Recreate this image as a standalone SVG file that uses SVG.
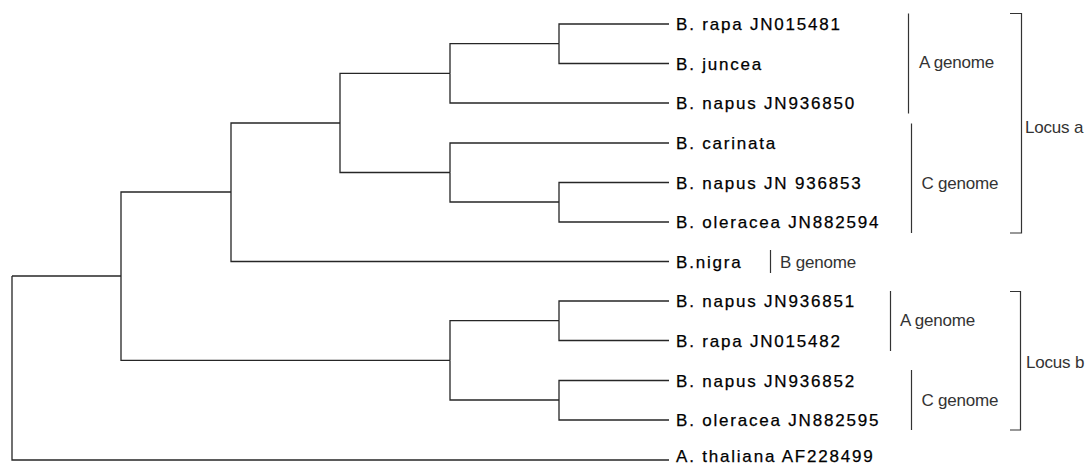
<svg xmlns="http://www.w3.org/2000/svg" width="1091" height="464" viewBox="0 0 1091 464">
<style>
.e{fill:none;stroke:#262626;stroke-width:1.3}
.b{fill:none;stroke:#333;stroke-width:1.2}
.sp{font-family:"Liberation Sans",Arial,sans-serif;font-size:17px;letter-spacing:1.8px;fill:#000;stroke:#000;stroke-width:0.25px}
.an{font-family:"Liberation Sans",Arial,sans-serif;font-size:17px;fill:#333;letter-spacing:-0.2px}
</style>
<rect width="1091" height="464" fill="#fff"/>
<g id="connectors">
<path id="e-root-n10" class="e" d="M12 276 H121"/>
<path id="e-root-L12" class="e" d="M12 276 V460 H669"/>
<path id="e-n10-n6" class="e" d="M121 276 V192 H231"/>
<path id="e-n10-n9" class="e" d="M121 276 V360.4 H450"/>
<path id="e-n6-n5" class="e" d="M231 192 V123 H340"/>
<path id="e-n6-L7" class="e" d="M231 192 V261.5 H669"/>
<path id="e-n5-n2" class="e" d="M340 123 V73.4 H450"/>
<path id="e-n5-n4" class="e" d="M340 123 V172.5 H450"/>
<path id="e-n2-n1" class="e" d="M450 73.4 V43.7 H559"/>
<path id="e-n2-L3" class="e" d="M450 73.4 V103 H669"/>
<path id="e-n1-L1" class="e" d="M559 43.7 V24 H669"/>
<path id="e-n1-L2" class="e" d="M559 43.7 V63.5 H669"/>
<path id="e-n4-L4" class="e" d="M450 172.5 V143 H669"/>
<path id="e-n4-n3" class="e" d="M450 172.5 V202 H559"/>
<path id="e-n3-L5" class="e" d="M559 202 V182.5 H669"/>
<path id="e-n3-L6" class="e" d="M559 202 V222 H669"/>
<path id="e-n9-n7" class="e" d="M450 360.4 V320.7 H559"/>
<path id="e-n9-n8" class="e" d="M450 360.4 V400 H559"/>
<path id="e-n7-L8" class="e" d="M559 320.7 V301 H669"/>
<path id="e-n7-L9" class="e" d="M559 320.7 V340.5 H669"/>
<path id="e-n8-L10" class="e" d="M559 400 V380.5 H669"/>
<path id="e-n8-L11" class="e" d="M559 400 V420 H669"/>
</g>
<g id="L1"><text class="sp" x="676" y="30">B. rapa JN015481</text></g>
<g id="L2"><text class="sp" x="676" y="69.5">B. juncea</text></g>
<g id="L3"><text class="sp" x="676" y="109">B. napus JN936850</text></g>
<g id="L4"><text class="sp" x="676" y="149">B. carinata</text></g>
<g id="L5"><text class="sp" x="676" y="188.5">B. napus JN 936853</text></g>
<g id="L6"><text class="sp" x="676" y="228">B. oleracea JN882594</text></g>
<g id="L7"><text class="sp" x="676" y="267.5">B.nigra</text></g>
<g id="L8"><text class="sp" x="676" y="307">B. napus JN936851</text></g>
<g id="L9"><text class="sp" x="676" y="346.5">B. rapa JN015482</text></g>
<g id="L10"><text class="sp" x="676" y="386.5">B. napus JN936852</text></g>
<g id="L11"><text class="sp" x="676" y="426">B. oleracea JN882595</text></g>
<g id="L12"><text class="sp" x="676" y="462">A. thaliana AF228499</text></g>
<g id="a-genome-a"><path class="b" d="M908.5 13.5 V113.5"/><text class="an" x="919" y="68">A genome</text></g>
<g id="c-genome-a"><path class="b" d="M911.5 123.5 V233"/><text class="an" x="921.5" y="189">C genome</text></g>
<g id="b-genome"><path class="b" d="M770.5 250 V273"/><text class="an" x="780" y="268">B genome</text></g>
<g id="a-genome-b"><path class="b" d="M890.5 291 V351"/><text class="an" x="900" y="326">A genome</text></g>
<g id="c-genome-b"><path class="b" d="M911.5 370 V430"/><text class="an" x="921.5" y="406">C genome</text></g>
<g id="locus-a"><path class="b" d="M1010 13.5 H1021.5 V233 H1010"/><text class="an" x="1025" y="133">Locus a</text></g>
<g id="locus-b"><path class="b" d="M1010 291.5 H1020.5 V430 H1010"/><text class="an" x="1026" y="368">Locus b</text></g>
</svg>
